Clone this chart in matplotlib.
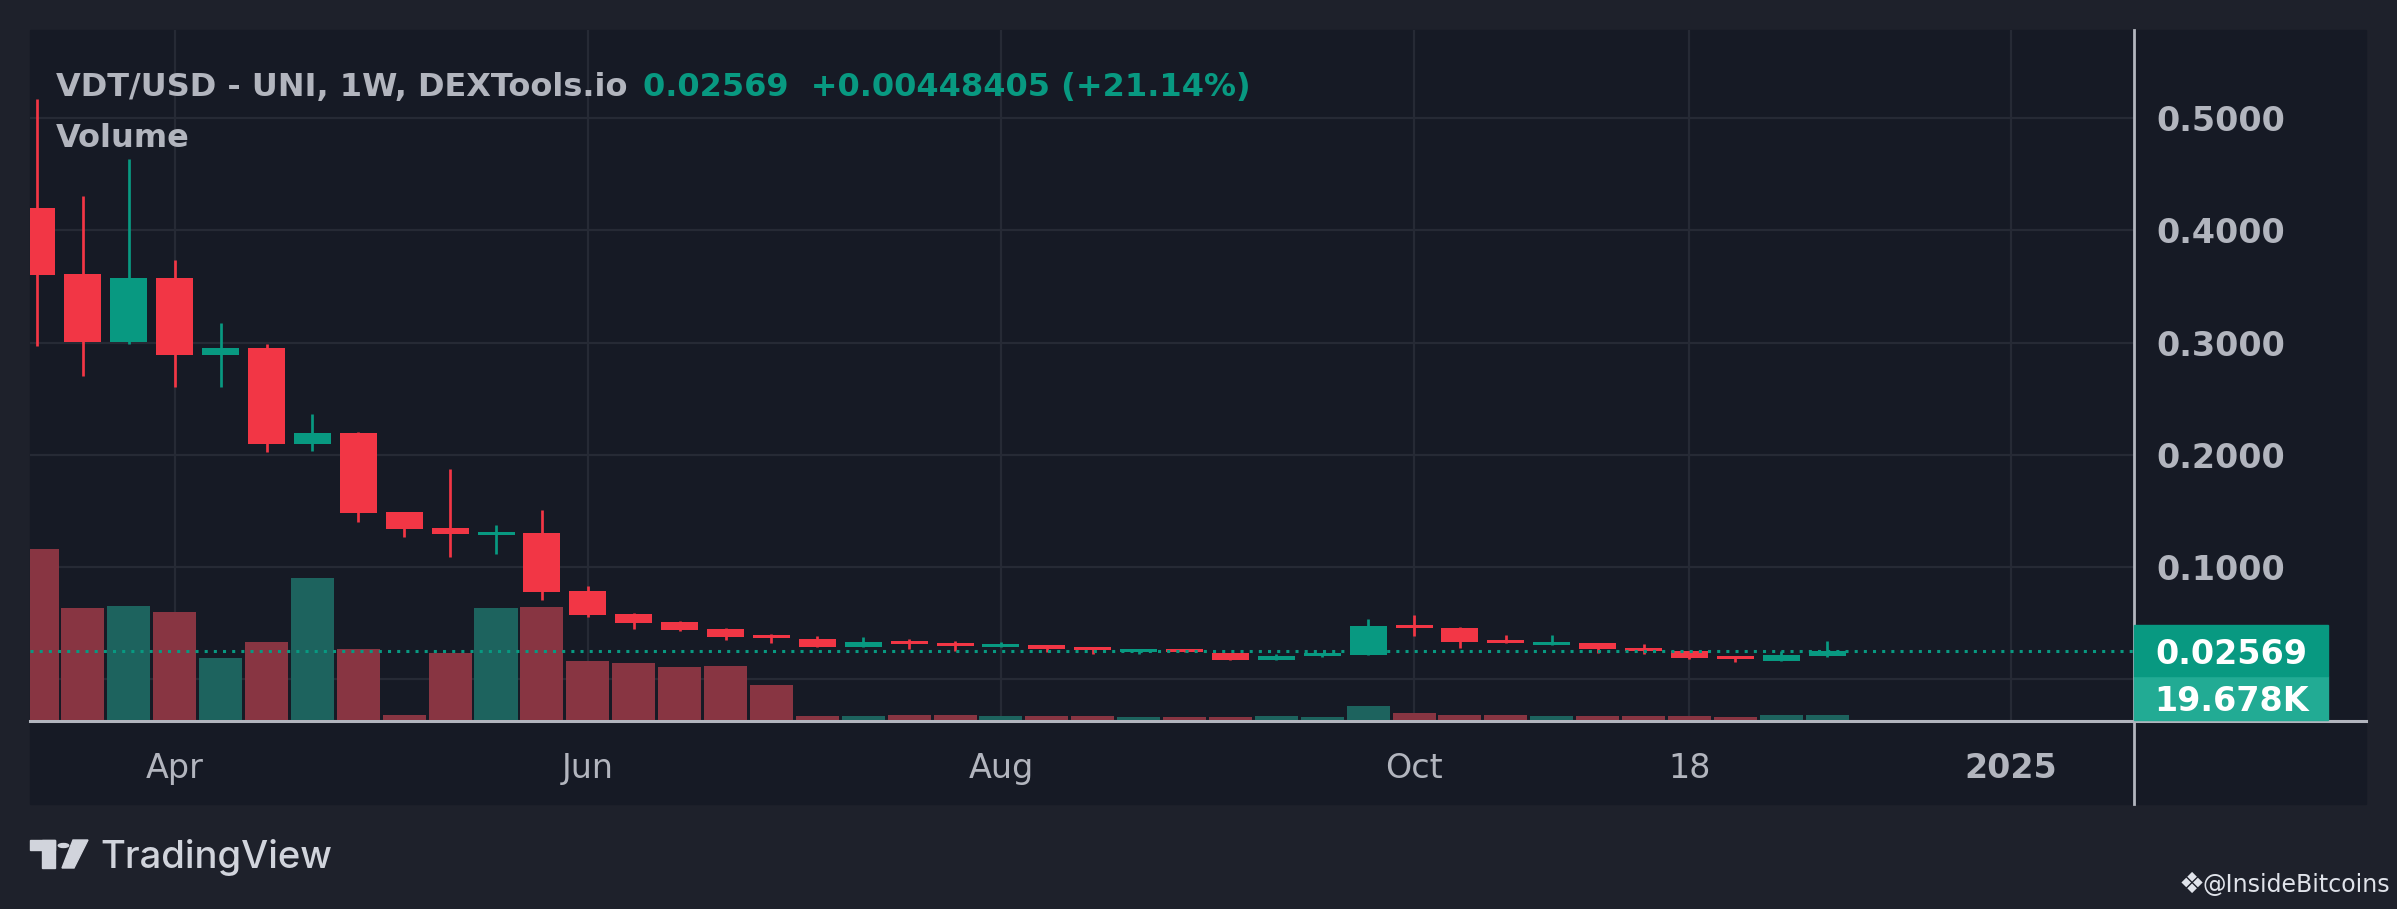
import numpy as np
import matplotlib
matplotlib.use('Agg')
import matplotlib.pyplot as plt
from matplotlib.patches import Rectangle, Circle, Polygon
from matplotlib.lines import Line2D
from matplotlib.transforms import blended_transform_factory

# weekly bars VDT/USD, week of Mar 11 2024 .. week of Dec 9 2024
weeks = np.arange(40)
opens = [0.4200, 0.3612, 0.3010, 0.3577, 0.2891, 0.2953, 0.2101, 0.2196, 0.1492, 0.1350,
         0.1290, 0.1305, 0.0788, 0.0583, 0.0512, 0.0450, 0.0396, 0.0361, 0.0292, 0.0343,
         0.0325, 0.0292, 0.0307, 0.0290, 0.0248, 0.0272, 0.0236, 0.0176, 0.0212, 0.0221,
         0.0486, 0.0459, 0.0352, 0.0310, 0.0325, 0.0281, 0.0254, 0.0209, 0.0168, 0.02121]
highs = [0.5170, 0.4307, 0.4637, 0.3737, 0.3176, 0.2989, 0.2365, 0.2205, 0.1492, 0.1875,
         0.1376, 0.1510, 0.0833, 0.0592, 0.0521, 0.0459, 0.0405, 0.0388, 0.0379, 0.0361,
         0.0343, 0.0334, 0.0310, 0.0292, 0.0274, 0.0274, 0.0238, 0.0227, 0.0238, 0.0539,
         0.0575, 0.0468, 0.0396, 0.0396, 0.0327, 0.0316, 0.0256, 0.0211, 0.0254, 0.0343]
lows = [0.2974, 0.2707, 0.2990, 0.2609, 0.2609, 0.2030, 0.2039, 0.1406, 0.1272, 0.1094,
        0.1121, 0.0711, 0.0560, 0.0453, 0.0432, 0.0352, 0.0325, 0.0290, 0.0290, 0.0272,
        0.0254, 0.0290, 0.0248, 0.0230, 0.0230, 0.0246, 0.0174, 0.0174, 0.0203, 0.0219,
        0.0390, 0.0283, 0.0326, 0.0308, 0.0239, 0.0230, 0.0185, 0.0159, 0.0166, 0.0203]
closes = [0.3606, 0.3010, 0.3577, 0.2891, 0.2953, 0.2101, 0.2196, 0.1486, 0.1344, 0.1299,
          0.1314, 0.0782, 0.0577, 0.0506, 0.0444, 0.0381, 0.0372, 0.0292, 0.0334, 0.0316,
          0.0298, 0.0316, 0.0272, 0.0266, 0.0272, 0.0248, 0.0176, 0.0209, 0.0236, 0.0477,
          0.0461, 0.0337, 0.0328, 0.0334, 0.0269, 0.0257, 0.0194, 0.0185, 0.0218, 0.02569]
volume_k = [673, 441, 449, 425, 244, 307, 559, 280, 20, 264,
            441, 445, 232, 224, 209, 213, 138, 16, 16, 20,
            20, 16, 16, 16, 12, 12, 12, 16, 12, 55,
            28, 20, 20, 16, 16, 16, 16, 12, 20, 19.678]

tick_pos = [3, 12, 21, 30, 36, 43]
tick_lab = ['Apr', 'Jun', 'Aug', 'Oct', '18', '2025']
price_ticks = [0.1, 0.2, 0.3, 0.4, 0.5]
last_price = 0.02569
last_vol = 19.678

# colours
outer_bg = '#1e212b'
pane_bg = '#161a25'
grid_c = '#262a35'
text_c = '#b2b5be'
up = '#089981'
down = '#f23645'
up_vol = '#1d635e'
down_vol = '#883542'

W, H = 2397, 909
fig = plt.figure(figsize=(W / 100, H / 100), dpi=100, facecolor=outer_bg)


def fx(x):
    return x / W


def fy(y):
    return 1 - y / H


# pane background
fig.patches.append(Rectangle((fx(30), fy(804)), 2336 / W, 774 / H,
                             transform=fig.transFigure, color=pane_bg, zorder=0))

rect = [fx(30), fy(720), 2104 / W, 690 / H]
ax_grid = fig.add_axes(rect, zorder=1)
ax_vol = fig.add_axes(rect, zorder=2)
ax = fig.add_axes(rect, zorder=3, sharex=ax_grid, sharey=ax_grid)
for a in (ax_grid, ax_vol, ax):
    a.set_facecolor('none')
    for s in a.spines.values():
        s.set_visible(False)

ax_grid.set_xlim(-0.1525, 45.686)
ax_grid.set_ylim(-0.0361, 0.5786)
ax_grid.set_yticks(price_ticks)
ax_grid.set_yticklabels(['%.4f' % v for v in price_ticks], fontweight='bold')
ax_grid.yaxis.tick_right()
ax_grid.set_xticks(tick_pos)
ax_grid.set_xticklabels(tick_lab)
ax_grid.tick_params(axis='y', length=0, pad=16, labelsize=24, labelcolor=text_c)
ax_grid.tick_params(axis='x', length=0, pad=23, labelsize=24, labelcolor=text_c)
ax_grid.get_xticklabels()[-1].set_fontweight('bold')
ax_grid.grid(color=grid_c, lw=1.6)
ax_grid.axhline(0, color=grid_c, lw=1.6)

# volume
vol_colors = [up_vol if c >= o else down_vol for o, c in zip(opens, closes)]
ax_vol.bar(weeks, volume_k, width=0.937, color=vol_colors)
ax_vol.set_xlim(-0.1525, 45.686)
ax_vol.set_ylim(0, 2716)
ax_vol.axis('off')

# candles
colors = [up if c >= o else down for o, c in zip(opens, closes)]
body_lo = np.minimum(opens, closes)
body_h = np.maximum(np.abs(np.array(closes) - np.array(opens)), 0.0009)
ax.vlines(weeks, lows, highs, colors=colors, lw=1.95)
ax.bar(weeks, body_h, bottom=body_lo, width=0.806, color=colors)
ax.axhline(last_price, color=up, lw=2.2, ls=(0, (1, 2)))
ax.axis('off')

# last price / volume labels on the price scale
tr = blended_transform_factory(ax.transAxes, ax.transData)
bh = 0.0227
ax.add_patch(Rectangle((1.0, last_price - bh), 0.0922, 2 * bh, transform=tr,
                       color=up, clip_on=False, zorder=5))
ax.text(1.0465, last_price, '%.5f' % last_price, transform=tr, color='white',
        fontsize=24, fontweight='bold', ha='center', va='center_baseline', zorder=6, clip_on=False)
ax_vol.add_patch(Rectangle((1.0, 0.0), 0.0922, 0.0638, transform=ax_vol.transAxes,
                           color='#22ab94', clip_on=False, zorder=5))
ax_vol.text(1.0465, 0.032, '%.3fK' % last_vol, transform=ax_vol.transAxes, color='white',
            fontsize=24, fontweight='bold', ha='center', va='center_baseline', zorder=6, clip_on=False)

# separators of the price and time scales
fig.add_artist(Line2D([fx(2134), fx(2134)], [fy(30), fy(804)], color=text_c, lw=2))
fig.add_artist(Line2D([fx(30), fx(2366)], [fy(720.5), fy(720.5)], color=text_c, lw=2.2))

# legend texts
fig.text(fx(56), fy(96), 'VDT/USD - UNI, 1W, DEXTools.io', color=text_c, fontsize=23,
         fontweight='bold', va='baseline')
fig.text(fx(643), fy(96), '0.02569  +0.00448405 (+21.14%)', color=up, fontsize=23,
         fontweight='bold', va='baseline')
fig.text(fx(56), fy(147), 'Volume', color=text_c, fontsize=23, fontweight='bold', va='baseline')

# TradingView logo
logo_c = '#d1d4dc'
fig.patches.append(Rectangle((fx(30), fy(850)), 25 / W, 10 / H, transform=fig.transFigure, color=logo_c))
fig.patches.append(Rectangle((fx(42), fy(868)), 13 / W, 28 / H, transform=fig.transFigure, color=logo_c))
fig.patches.append(Circle((fx(63.5), fy(845.5)), 5.2 / W, transform=fig.transFigure, color=logo_c))
fig.patches.append(Polygon([(fx(73), fy(840)), (fx(88), fy(840)), (fx(74), fy(868)), (fx(62), fy(868))],
                           closed=True, transform=fig.transFigure, color=logo_c))
fig.text(fx(100), fy(868), 'TradingView', color=logo_c, fontsize=27.5, family='Inter',
         fontweight='medium', va='baseline')

fig.text(fx(2192), fy(885), '\u2756', color='#e0e3ea', fontsize=21, ha='center', va='center')
fig.text(fx(2390), fy(885), '@InsideBitcoins', color='#e0e3ea', fontsize=17,
         ha='right', va='center')

fig.savefig('out.png', dpi=100, facecolor=outer_bg)
